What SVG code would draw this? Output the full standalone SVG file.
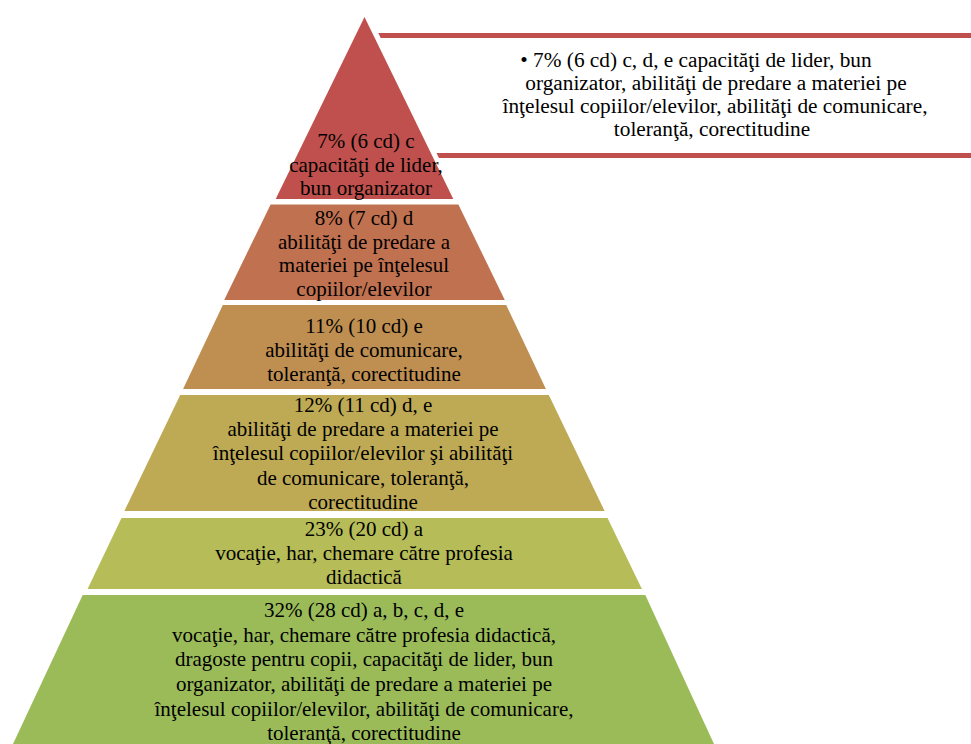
<svg xmlns="http://www.w3.org/2000/svg" width="971" height="744" viewBox="0 0 971 744">
<style>
text{font-family:"Liberation Serif","Times New Roman",serif;font-size:21px;fill:#000;text-anchor:middle}
.co{font-size:21.3px}
.bar{fill:#C0504D}
</style>
<rect width="971" height="744" fill="#fff"/>
<g id="callout">
<polygon class="bar" points="378.3,33 971,33 971,38 380.7,38"/>
<polygon class="bar" points="436.5,153 971,153 971,158 438.9,158"/>
<text class="co" x="696" y="67">• 7% (6 cd) c, d, e capacităţi de lider, bun</text>
<text class="co" x="716" y="90">organizator, abilităţi de predare a materiei pe</text>
<text class="co" x="715" y="113">înţelesul copiilor/elevilor, abilităţi de comunicare,</text>
<text class="co" x="712" y="136">toleranţă, corectitudine</text>
</g>
<g id="layer1">
<polygon fill="#C0504D" points="364.5,17 453.3,199 275.7,199"/>
<text x="366" y="148">7% (6 cd) c</text>
<text x="366" y="172">capacităţi de lider,</text>
<text x="366" y="195">bun organizator</text>
</g>
<g id="layer2">
<polygon fill="#C0714F" points="270.6,204.5 458.4,204.5 504.8,300 224.2,300"/>
<text x="364" y="225">8% (7 cd) d</text>
<text x="364" y="248.5">abilităţi de predare a</text>
<text x="364" y="272">materiei pe înţelesul</text>
<text x="364" y="295.5">copiilor/elevilor</text>
</g>
<g id="layer3">
<polygon fill="#BF8E51" points="222.8,305 506.2,305 545.9,389 183.1,389"/>
<text x="364" y="333">11% (10 cd) e</text>
<text x="364" y="357">abilităţi de comunicare,</text>
<text x="364" y="381">toleranţă, corectitudine</text>
</g>
<g id="layer4">
<polygon fill="#BEAA54" points="180.2,395 548.8,395 604.6,511 124.4,511"/>
<text x="363" y="412">12% (11 cd) d, e</text>
<text x="363" y="436">abilităţi de predare a materiei pe</text>
<text x="363" y="460">înţelesul copiilor/elevilor şi abilităţi</text>
<text x="363" y="484.5">de comunicare, toleranţă,</text>
<text x="363" y="508.5">corectitudine</text>
</g>
<g id="layer5">
<polygon fill="#B6BC57" points="121.5,518 607.5,518 641.9,589 87.6,589"/>
<text x="364" y="536">23% (20 cd) a</text>
<text x="364" y="560">vocaţie, har, chemare către profesia</text>
<text x="364" y="584">didactică</text>
</g>
<g id="layer6">
<polygon fill="#9BBB59" points="82.7,595 645.3,595 714,744 13,744"/>
<text x="364" y="617">32% (28 cd) a, b, c, d, e</text>
<text x="364" y="641.5">vocaţie, har, chemare către profesia didactică,</text>
<text x="364" y="666">dragoste pentru copii, capacităţi de lider, bun</text>
<text x="364" y="691">organizator, abilităţi de predare a materiei pe</text>
<text x="364" y="716">înţelesul copiilor/elevilor, abilităţi de comunicare,</text>
<text x="364" y="740">toleranţă, corectitudine</text>
</g>
<g id="connectors"/>
</svg>
